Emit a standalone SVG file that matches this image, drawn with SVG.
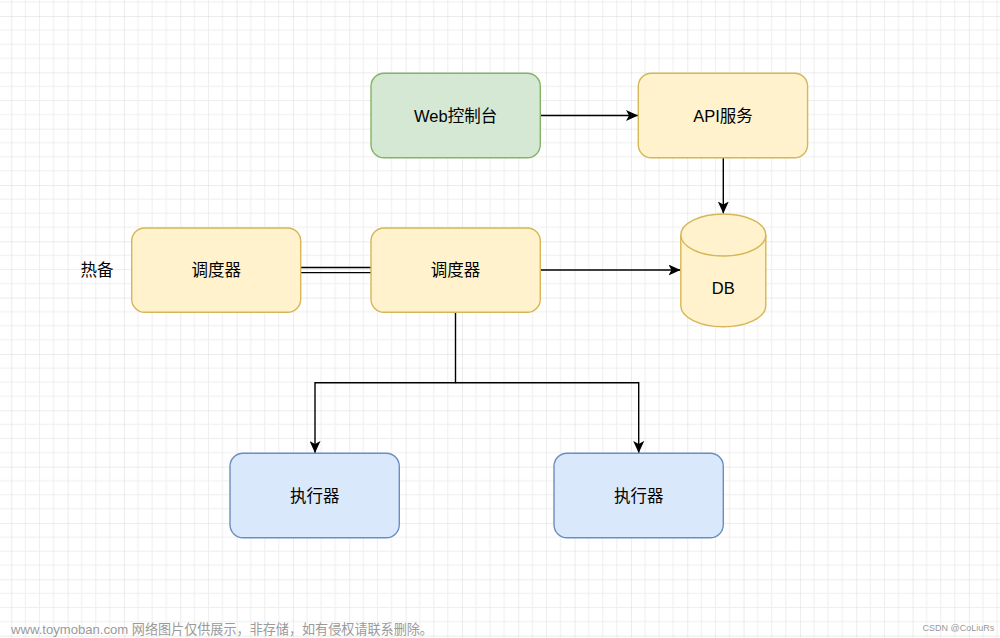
<svg xmlns="http://www.w3.org/2000/svg" width="1000" height="638" viewBox="0 0 1000 638">
  <defs>
    <pattern id="grid" patternUnits="userSpaceOnUse" x="11.3" y="16" width="56.33" height="56.33">
      <path d="M14.08,0V56.33M28.17,0V56.33M42.25,0V56.33M0,14.08H56.33M0,28.17H56.33M0,42.25H56.33" stroke="#eeeeee" stroke-width="1" fill="none"/>
      <path d="M0,0V56.33M0,0H56.33" stroke="#d9d9d9" stroke-width="1" fill="none"/>
    </pattern>
    <marker id="arrow" markerUnits="userSpaceOnUse" viewBox="0 0 12 11" refX="12" refY="5.5" markerWidth="12" markerHeight="11" orient="auto">
      <path d="M0,0 L12,5.5 L0,11 L3,5.5 Z" fill="#000"/>
    </marker>
    <style>
      .green { fill: #d5e8d4; stroke: #82b366; stroke-width: 1.4; }
      .yellow { fill: #fff2cc; stroke: #d6b656; stroke-width: 1.4; }
      .blue { fill: #dae8fc; stroke: #6c8ebf; stroke-width: 1.4; }
      .label { font-family: "Liberation Sans", "Noto Sans CJK SC", sans-serif; font-size: 16.5px; fill: #000; text-anchor: middle; dominant-baseline: central; }
      .edge { stroke: #000; stroke-width: 1.4; fill: none; }
      .wm { font-family: "Liberation Sans", "Noto Sans CJK SC", sans-serif; fill: #9a9a9a; }
    </style>
  </defs>
  <rect width="1000" height="638" fill="#ffffff"/>
  <rect width="1000" height="638" fill="url(#grid)"/>

  <g id="connectors">
    <path class="edge" d="M540.3,115.5 H638" marker-end="url(#arrow)"/>
    <path class="edge" d="M723.3,157.7 V213.5" marker-end="url(#arrow)"/>
    <path class="edge" d="M540.3,270 H680.5" marker-end="url(#arrow)"/>
    <path class="edge" d="M300.7,267.5 H371 M300.7,272.6 H371"/>
    <path class="edge" d="M455.5,312.3 V382.7 H315 V453" marker-end="url(#arrow)"/>
    <path class="edge" d="M455.5,382.7 H638.7 V453" marker-end="url(#arrow)"/>
  </g>

  <g id="web-console">
    <rect class="green" x="371" y="73.3" width="169.3" height="84.4" rx="13"/>
    <text class="label" x="455.6" y="115.5">Web控制台</text>
  </g>
  <g id="api-service">
    <rect class="yellow" x="638.3" y="73.3" width="169.3" height="84.4" rx="13"/>
    <text class="label" x="723" y="115.5">API服务</text>
  </g>
  <g id="hot-standby-label">
    <text class="label" x="97" y="270">热备</text>
  </g>
  <g id="scheduler-standby">
    <rect class="yellow" x="131.7" y="228" width="169" height="84.3" rx="13"/>
    <text class="label" x="216.2" y="270">调度器</text>
  </g>
  <g id="scheduler-main">
    <rect class="yellow" x="371" y="228" width="169.3" height="84.3" rx="13"/>
    <text class="label" x="455.6" y="270">调度器</text>
  </g>
  <g id="db">
    <path class="yellow" d="M680.8,235 A42.5,21 0 0 1 765.8,235 V305.7 A42.5,21 0 0 1 680.8,305.7 Z"/>
    <path class="yellow" d="M680.8,235 A42.5,21 0 0 0 765.8,235" fill="none"/>
    <text class="label" x="723.3" y="288">DB</text>
  </g>
  <g id="executor-1">
    <rect class="blue" x="230" y="453.3" width="169.3" height="84.4" rx="13"/>
    <text class="label" x="314.7" y="495.5">执行器</text>
  </g>
  <g id="executor-2">
    <rect class="blue" x="554" y="453.3" width="169.3" height="84.4" rx="13"/>
    <text class="label" x="638.7" y="495.5">执行器</text>
  </g>

  <g id="watermarks">
    <text class="wm" x="11" y="634" font-size="13.1">www.toymoban.com 网络图片仅供展示，非存储，如有侵权请联系删除。</text>
    <text class="wm" x="922.5" y="631" font-size="9" fill="#aaaaaa">CSDN @CoLiuRs</text>
  </g>
</svg>
